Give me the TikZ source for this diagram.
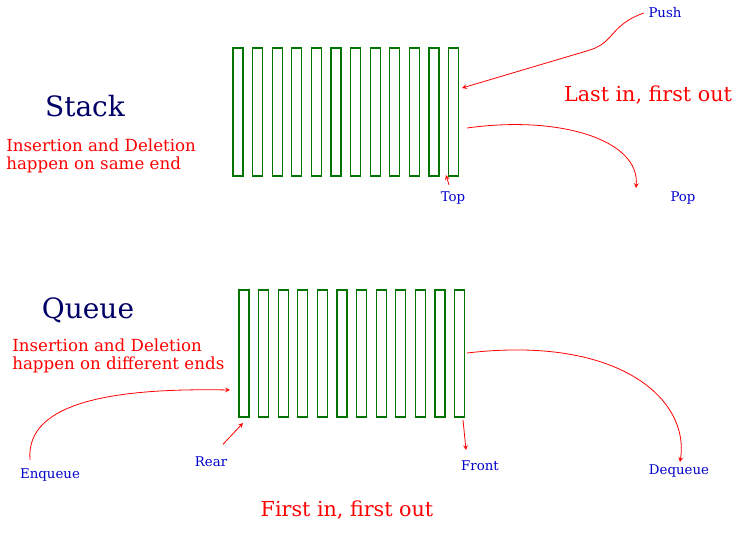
\documentclass[tikz,border=0pt]{standalone}
\usepackage{fontspec}
\setmainfont{DejaVu Serif}
\usepackage{tikz}
\usetikzlibrary{positioning}
\tikzset{
  bar/.style={draw=green!45!black,line width=0.8pt},
  title/.style={text=blue!40!black,font=\fontsize{21}{23}\selectfont},
  redtext/.style={text=red,font=\fontsize{12.5}{14}\selectfont,align=left},
  bluetext/.style={text=blue!80!black,font=\fontsize{10}{12}\selectfont},
  hand/.style={draw=red,line width=0.6pt,->,>=stealth}
}
\begin{document}
\begin{tikzpicture}[x=0.75pt,y=-0.75pt]
	\useasboundingbox (0,0) rectangle (745,532);
	% stack
	\foreach \i in {0,...,11}
		\draw [bar] (233+19.6*\i,48) rectangle (243+19.6*\i,176);
	% queue
	\foreach \i in {0,...,11}
		\draw [bar] (239+19.6*\i,290) rectangle (249+19.6*\i,417);
	\node [title] (stack) at (85,106) {Stack};
	\node [redtext,anchor=west,inner sep=0pt] (sdesc) at (6,156) {Insertion and Deletion\\happen on same end};
	\node [redtext,font=\fontsize{15.5}{17}\selectfont] (lifo) at (648,95) {Last in, first out};
	\node [bluetext] (push) at (665,13) {Push};
	\node [bluetext] (top) at (453,198) {Top};
	\node [bluetext] (pop) at (683,198) {Pop};
	\node [title] (queue) at (88,310) {Queue};
	\node [redtext,anchor=west,inner sep=0pt] (qdesc) at (12,356) {Insertion and Deletion\\happen on different ends};
	\node [bluetext] (enq) at (50,475) {Enqueue};
	\node [bluetext] (rear) at (211,462) {Rear};
	\node [bluetext] (front) at (480,466) {Front};
	\node [bluetext] (deq) at (679,471) {Dequeue};
	\node [redtext,font=\fontsize{15.5}{17}\selectfont] (fifo) at (347,510) {First in, first out};
	\coordinate (sin) at (462,88);
	\coordinate (sout) at (467,128);
	\coordinate (qin) at (230,390);
	\coordinate (qout) at (467,353);
	\draw [hand] (push.west) .. controls (610,25) and (615,42) .. (590,50) -- (sin);
	\draw [hand] (sout) .. controls (560,115) and (640,140) .. (636,188);
	\draw [hand] (top.north) ++(-4,-2) -- ++(-3,-10);
	\draw [hand] (30,460) .. controls (25,400) and (120,388) .. (qin);
	\draw [hand] (rear.north) ++(12,-8) -- (243,423);
	\draw [hand] (463,420) -- (466,450);
	\draw [hand] (qout) .. controls (620,335) and (690,400) .. (680,462);
\end{tikzpicture}
\end{document}
